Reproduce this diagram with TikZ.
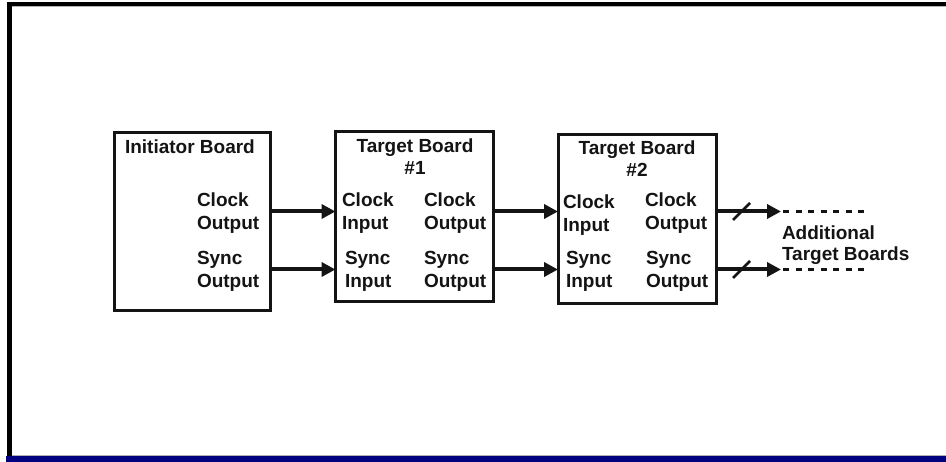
\documentclass[tikz,border=0pt]{standalone}
\usepackage{fontspec}
\setmainfont{Liberation Sans}
\usetikzlibrary{arrows.meta}
\definecolor{framenavy}{RGB}{0,0,128}
\definecolor{ink}{RGB}{20,20,20}
\tikzset{
  board/.style={draw=ink, line width=3pt, fill=white, inner sep=0pt, outer sep=0pt},
  lbl/.style={inner sep=0pt, outer sep=0pt, anchor=base west, text=ink,
              font=\fontsize{19}{22.5}\selectfont\bfseries},
  ttl/.style={lbl, anchor=base},
  sig/.style={draw=ink, line width=4pt, -{Triangle[length=14pt,width=14pt]}},
  more/.style={draw=ink, line width=3pt, dash pattern=on 6.3pt off 6.2pt},
  tick/.style={draw=ink, line width=2.5pt}
}
\begin{document}
\begin{tikzpicture}[x=1pt, y=-1pt]
\useasboundingbox (0,0) rectangle (946,462);

% page frame
\fill[black] (7,2) rectangle (946,6);
\fill[gray!60] (12,6) rectangle (946,7);
\fill[black] (7,2) rectangle (12,456);
\fill[gray!60] (12,455) rectangle (946,456.5);
\fill[framenavy] (6,456.5) rectangle (946,462);

% boards
\node[board, minimum width=156.5pt, minimum height=178pt] (init) at (192.25,222) {};
\node[board, minimum width=157.5pt, minimum height=169.5pt] (tb1) at (414.25,216.75) {};
\node[board, minimum width=158pt, minimum height=169pt] (tb2) at (637,219) {};

% signal levels
\coordinate (clk) at (0,211.5);
\coordinate (syn) at (0,269.5);

% initiator labels
\node[lbl] (initname) at (125,154) {Initiator Board};
\node[lbl] (iclk1) at (197,207) {Clock};
\node[lbl] (iclk2) at (197,229.5) {Output};
\node[lbl] (isyn1) at (197,265) {Sync};
\node[lbl] (isyn2) at (197,287.5) {Output};

% target board 1 labels
\node[ttl] (t1name) at (415,153) {Target Board};
\node[ttl] (t1num) at (415,174.5) {\#1};
\node[lbl] (t1ci1) at (342,207) {Clock};
\node[lbl] (t1ci2) at (342,229.5) {Input};
\node[lbl] (t1si1) at (345,265) {Sync};
\node[lbl] (t1si2) at (345,287.5) {Input};
\node[lbl] (t1co1) at (424,207) {Clock};
\node[lbl] (t1co2) at (424,229.5) {Output};
\node[lbl] (t1so1) at (424,265) {Sync};
\node[lbl] (t1so2) at (424,287.5) {Output};

% target board 2 labels
\node[ttl] (t2name) at (637,155) {Target Board};
\node[ttl] (t2num) at (637,176.5) {\#2};
\node[lbl] (t2ci1) at (563,209) {Clock};
\node[lbl] (t2ci2) at (563,231.5) {Input};
\node[lbl] (t2si1) at (566,265) {Sync};
\node[lbl] (t2si2) at (566,287.5) {Input};
\node[lbl] (t2co1) at (645,207) {Clock};
\node[lbl] (t2co2) at (645,229.5) {Output};
\node[lbl] (t2so1) at (646,265) {Sync};
\node[lbl] (t2so2) at (646,287.5) {Output};

% further boards
\node[lbl] (add1) at (782,240) {Additional};
\node[lbl] (add2) at (782,261) {Target Boards};

% links between boards
\draw[sig] (init.east |- clk) -- (tb1.west |- clk);
\draw[sig] (init.east |- syn) -- (tb1.west |- syn);
\draw[sig] (tb1.east |- clk) -- (tb2.west |- clk);
\draw[sig] (tb1.east |- syn) -- (tb2.west |- syn);

% onward links
\coordinate (clktip) at (781,211.5);
\coordinate (syntip) at (781,269.5);
\coordinate (clkend) at (868,211.5);
\coordinate (synend) at (868,269.5);
\draw[sig] (tb2.east |- clk) -- (clktip);
\draw[sig] (tb2.east |- syn) -- (syntip);
\draw[more] ([xshift=2pt]clktip) -- (clkend);
\draw[more] ([xshift=2pt]syntip) -- (synend);
\draw[tick] (733,220) -- (750,203);
\draw[tick] (733,278) -- (750,261);
\end{tikzpicture}
\end{document}
